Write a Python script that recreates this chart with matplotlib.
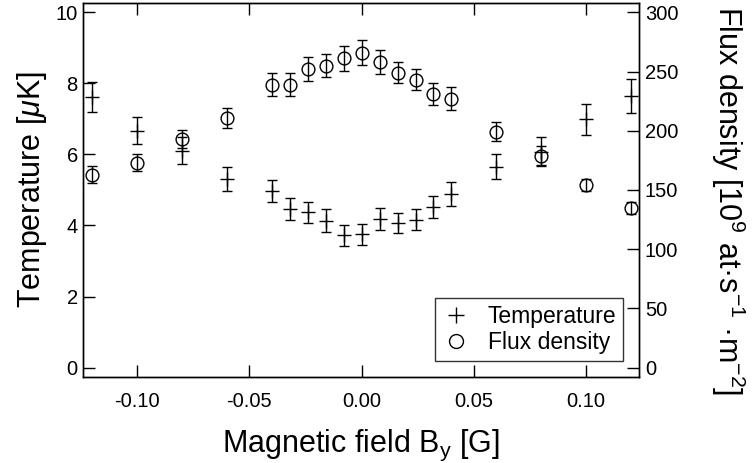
import numpy as np
import matplotlib
matplotlib.use('Agg')
import matplotlib.pyplot as plt
from matplotlib.lines import Line2D

plt.rcParams['font.family'] = ['Liberation Sans', 'DejaVu Sans']
plt.rcParams['mathtext.fontset'] = 'custom'
plt.rcParams['mathtext.rm'] = 'Liberation Sans'
plt.rcParams['mathtext.it'] = 'Liberation Sans:italic'
plt.rcParams['axes.unicode_minus'] = False

# dados
campo = [-0.12, -0.10, -0.08, -0.06, -0.04, -0.032, -0.024, -0.016, -0.008, 0.0,
         0.008, 0.016, 0.024, 0.032, 0.04, 0.06, 0.08, 0.10, 0.12]

temperatura = [7.62, 6.66, 6.11, 5.31, 4.97, 4.47, 4.37, 4.14, 3.72, 3.75,
               4.18, 4.06, 4.16, 4.53, 4.88, 5.66, 6.08, 6.99, 7.65]
erro_temperatura = [0.42, 0.38, 0.38, 0.33, 0.31, 0.31, 0.30, 0.31, 0.30, 0.30,
                    0.30, 0.28, 0.29, 0.31, 0.33, 0.36, 0.41, 0.44, 0.48]

fluxo = [163, 173, 193, 211, 239, 239, 252, 255, 261, 266,
         258, 249, 243, 231, 227, 199, 179, 154, 135]
erro_fluxo = [7, 7, 7.7, 8.4, 9.5, 9.5, 10, 10, 10.5, 10.5,
              10, 9, 9, 9, 9.5, 8, 8, 5, 5]

ticks_x = [-0.10, -0.05, 0.00, 0.05, 0.10]
ticks_temp = [0, 2, 4, 6, 8, 10]
ticks_fluxo = [0, 50, 100, 150, 200, 250, 300]

fig = plt.figure(figsize=(7.52, 4.63), dpi=100)
ax = fig.add_subplot(111)
fig.subplots_adjust(left=0.1108, right=0.8501, top=0.9942, bottom=0.1868)
ax2 = ax.twinx()

lw = 1.0

# temperatura - eixo esquerdo
ax.errorbar(campo, temperatura, yerr=erro_temperatura, fmt='+', color='black',
            markersize=9.5, markeredgewidth=lw, elinewidth=lw, capsize=3.6,
            capthick=lw, clip_on=False)

# fluxo - eixo direito
ax2.errorbar(campo, fluxo, yerr=erro_fluxo, fmt='o', color='black', mfc='none',
             markersize=9.2, markeredgewidth=lw, elinewidth=lw, capsize=3.4,
             capthick=lw)

ax.set_xlim(-0.124, 0.1237)
ax.set_ylim(-0.25, 10.27)
ax2.set_ylim(-7.5, 308.1)

ax.set_xticks(ticks_x)
ax.set_xticklabels([f'{v:.2f}' for v in ticks_x])
ax.set_yticks(ticks_temp)
ax2.set_yticks(ticks_fluxo)

ax.tick_params(axis='both', direction='in', length=8.6, width=lw,
               labelsize=14.5, top=True)
ax.tick_params(axis='x', pad=11)
ax.tick_params(axis='y', pad=4)
ax2.tick_params(axis='y', direction='in', length=8.6, width=lw,
                labelsize=14.5, pad=4)

for a in (ax, ax2):
    for s in a.spines.values():
        s.set_linewidth(lw)

ax.set_xlabel('Magnetic field B$_\\mathrm{y}$ [G]', fontsize=22, labelpad=12)
ax.set_ylabel('Temperature [$\\mu$K]', fontsize=22, labelpad=5)
ax2.set_ylabel('Flux density [10$^{9}$ at·s$^{-1}$ ·m$^{-2}$]',
               fontsize=22, rotation=270, labelpad=50, y=0.47)

# legenda
handles = [
    Line2D([], [], marker='+', linestyle='none', color='black',
           markersize=12, markeredgewidth=lw),
    Line2D([], [], marker='o', linestyle='none', color='black', mfc='none',
           markersize=10, markeredgewidth=lw),
]
leg = ax2.legend(handles, ['Temperature', 'Flux density'], loc='lower right',
                 bbox_to_anchor=(0.971, 0.0415), borderaxespad=0, fontsize=16.5,
                 frameon=True, fancybox=False, handlelength=1.2,
                 handletextpad=0.8, borderpad=0.3, labelspacing=0.15)
leg.get_frame().set_edgecolor('black')
leg.get_frame().set_linewidth(lw)

fig.savefig('out.png', dpi=100)
